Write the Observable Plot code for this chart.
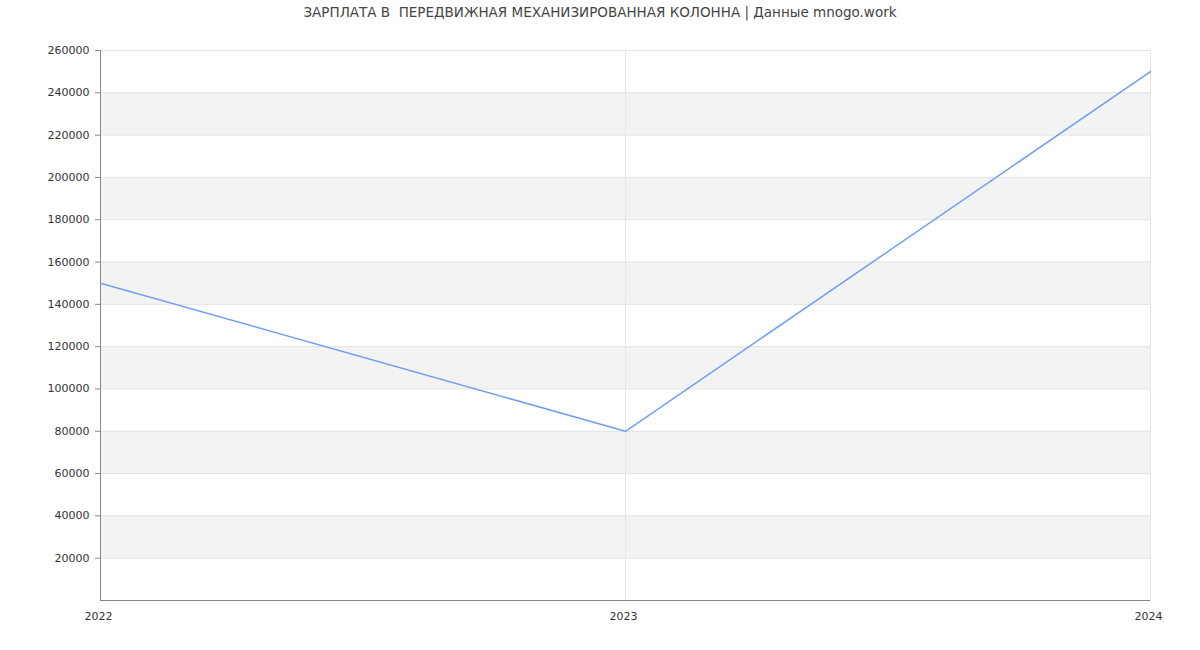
<!DOCTYPE html>
<html>
<head>
<meta charset="utf-8">
<script src="https://cdn.jsdelivr.net/npm/d3@7"></script>
<script src="https://cdn.jsdelivr.net/npm/@observablehq/plot@0.6"></script>
<style>
  html, body { margin: 0; padding: 0; background: #fff; }
  body { width: 1200px; height: 650px; overflow: hidden; font-family: "DejaVu Sans", sans-serif; }
  #title { height: 25px; line-height: 24px; text-align: center; font-size: 13.5px; color: #444; white-space: pre; }
  svg { display: block; }
</style>
</head>
<body>
<div id="title">ЗАРПЛАТА В  ПЕРЕДВИЖНАЯ МЕХАНИЗИРОВАННАЯ КОЛОННА | Данные mnogo.work</div>
<div id="chart"></div>
<script>
const years = [2022, 2023, 2024];
const salaries = [150000, 80000, 250000];
const yTicks = [20000, 40000, 60000, 80000, 100000, 120000, 140000, 160000, 180000, 200000, 220000, 240000, 260000];
const yDomain = [0, 260000];

const data = years.map((y, i) => ({year: y, value: salaries[i]}));
const bounds = [0, ...yTicks];
const bands = [];
for (let i = 1; i + 1 < bounds.length; i += 2) bands.push({y1: bounds[i], y2: bounds[i + 1]});

const chart = Plot.plot({
  width: 1200,
  height: 625,
  marginTop: 25,
  marginBottom: 50,
  marginLeft: 100,
  marginRight: 50,
  style: {fontFamily: "DejaVu Sans, sans-serif", fontSize: "11px", color: "#333", background: "#fff"},
  x: {domain: [years[0], years[years.length - 1]], ticks: years, tickFormat: d => String(d), tickSize: 0, tickPadding: 12, label: null},
  y: {domain: yDomain, ticks: yTicks, tickFormat: d => String(d), tickSize: 5, tickPadding: 6, label: null},
  marks: [
    Plot.rectY(bands, {x1: years[0], x2: years[years.length - 1], y1: "y1", y2: "y2", fill: "#f3f3f3"}),
    Plot.ruleY(yTicks, {stroke: "#e3e3e3", strokeWidth: 1}),
    Plot.ruleX(years.slice(1), {stroke: "#e6e6e6", strokeWidth: 1}),
    Plot.axisY({ticks: yTicks, tickFormat: d => String(d), tickSize: 5, tickPadding: 6, stroke: "#888", fill: "#333"}),
    Plot.axisX({ticks: years, tickFormat: d => String(d), tickSize: 0, tickPadding: 12, dx: -2, fill: "#333"}),
    Plot.ruleX([years[0]], {stroke: "#888", strokeWidth: 1}),
    Plot.ruleY([0], {stroke: "#888", strokeWidth: 1}),
    Plot.line(data, {x: "year", y: "value", stroke: "#729ef3", strokeWidth: 1.5})
  ]
});
document.getElementById("chart").appendChild(chart);
</script>
</body>
</html>
